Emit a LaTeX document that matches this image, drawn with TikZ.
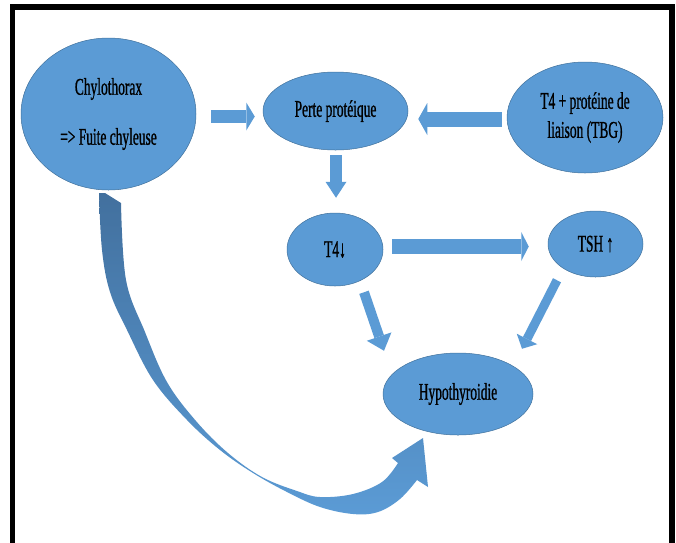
\documentclass[tikz,border=0pt]{standalone}
\usepackage{fontspec}
\newfontfamily\narrowserif[FakeStretch=0.56, FakeBold=0.8]{Liberation Serif}
\usetikzlibrary{shapes.geometric}
\usetikzlibrary{arrows.meta}
\definecolor{cb}{RGB}{91, 155, 213}
\definecolor{cd}{RGB}{65, 113, 156}
\definecolor{ct}{RGB}{66, 112, 158}

\begin{document}
\begin{tikzpicture}[
  bubble/.style={ellipse, inner sep=0pt, fill=cb, draw=cd, line width=0.5pt, align=center,
    font={\narrowserif\fontsize{24}{29}\selectfont}},
  block/.style={color=cb, line width=#1}]
\useasboundingbox (0pt, 0pt) rectangle (676pt, -542pt);
\draw [line width=5.5pt, color=black] (12.5pt, -560pt) -- (12.5pt, -7pt) -- (672pt, -7pt) -- (672pt, -560pt);
\node (chylo) [bubble, minimum width=175pt, minimum height=152pt] at (108.5pt, -114pt) {Chylothorax\\[21pt]=> Fuite chyleuse};
\node (perte) [bubble, minimum width=145pt, minimum height=78pt] at (335.5pt, -111pt) {Perte protéique};
\node (tbg) [bubble, minimum width=156pt, minimum height=111pt] at (585pt, -117.5pt) {T4 + protéine de\\liaison (TBG)};
\node (tfour) [bubble, minimum width=96pt, minimum height=73pt] at (335pt, -249.5pt) {T4↓};
\node (tsh) [bubble, minimum width=95pt, minimum height=66pt] at (595.5pt, -244pt) {TSH ↑};
\node (hypo) [bubble, minimum width=150pt, minimum height=82pt] at (458pt, -394pt) {Hypothyroidie};
\draw [block=13pt, -{Triangle[width=28pt, length=8.5pt, line width=0pt]}] ([shift={(15pt,-2.5pt)}]chylo.east) -- ([shift={(-8pt,-5.5pt)}]perte.west);
\draw [block=15pt, -{Triangle[width=32pt, length=9pt, line width=0pt]}] ([shift={(-5pt,-1.5pt)}]tbg.west) -- ([shift={(10pt,-8pt)}]perte.east);
\draw [block=12pt, -{Triangle[width=21pt, length=16pt, line width=0pt]}] ([shift={(0.5pt,-5pt)}]perte.south) -- ([shift={(1pt,15pt)}]tfour.north);
\draw [block=15pt, -{Triangle[width=29pt, length=7.5pt, line width=0pt]}] ([shift={(9pt,3pt)}]tfour.east) -- ([shift={(-19pt,-2.5pt)}]tsh.west);
\draw [block=10pt, -{Triangle[width=26pt, length=15pt, line width=0pt]}] ([shift={(29pt,-6pt)}]tfour.south) -- ([shift={(-74pt,2pt)}]hypo.north);
\draw [block=9pt, -{Triangle[width=23pt, length=11pt, line width=0pt]}] ([shift={(-38.5pt,-3pt)}]tsh.south) -- ([shift={(64pt,4pt)}]hypo.north);
% curved arrow from chylo down to hypo
\shade [top color=ct, bottom color=cb] (99pt, -193pt)
  -- plot [smooth, tension=0.6] coordinates {(99pt, -193pt) (102pt, -250pt) (110pt, -292pt) (127pt, -330pt) (153pt, -380pt) (187pt, -420pt) (220pt, -450pt) (253pt, -473pt) (287pt, -492pt) (320pt, -507pt) (353pt, -514pt) (378pt, -512pt) (400pt, -499pt) (417pt, -480pt)}
  -- (428pt, -487pt) -- (423pt, -438pt) -- (392pt, -458pt)
  -- plot [smooth, tension=0.6] coordinates {(398pt, -463pt) (382pt, -482pt) (353pt, -494pt) (320pt, -497pt) (297pt, -491pt) (262pt, -477pt) (228pt, -453pt) (196pt, -421pt) (167pt, -382pt) (145pt, -332pt) (126pt, -280pt) (121pt, -203pt)}
  -- (105pt, -193pt) -- cycle;
\end{tikzpicture}
\end{document}
